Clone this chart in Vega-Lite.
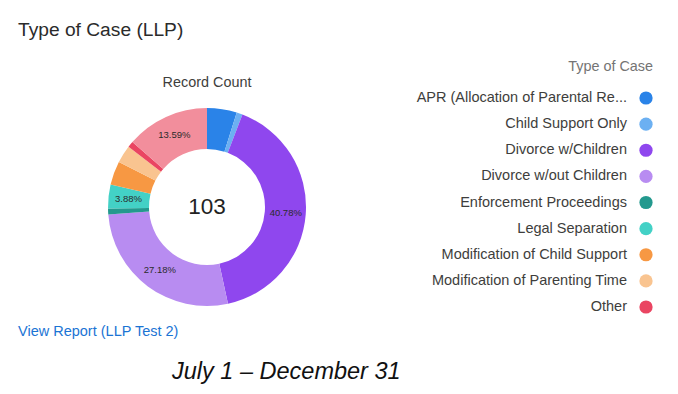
{
  "$schema": "https://vega.github.io/schema/vega-lite/v6.json",
  "padding": {"left": 18, "top": 21, "right": 0, "bottom": 0},
  "background": "white",
  "title": {"text": "Type of Case (LLP)", "anchor": "start", "fontSize": 19.2, "fontWeight": "normal", "font": "Liberation Sans", "color": "#2b2b2b", "offset": 18.5},
  "config": {"view": {"stroke": null}, "font": "Liberation Sans"},
  "data": {"values": [
    {"type": "APR (Allocation of Parental Responsibilities)", "count": 5, "label": ""},
    {"type": "Child Support Only", "count": 1, "label": ""},
    {"type": "Divorce w/Children", "count": 42, "label": "40.78%"},
    {"type": "Divorce w/out Children", "count": 28, "label": "27.18%"},
    {"type": "Enforcement Proceedings", "count": 1, "label": ""},
    {"type": "Legal Separation", "count": 4, "label": "3.88%"},
    {"type": "Modification of Child Support", "count": 4, "label": ""},
    {"type": "Modification of Parenting Time", "count": 3, "label": ""},
    {"type": "Other", "count": 1, "label": ""},
    {"type": "Paternity", "count": 14, "label": "13.59%"}
  ]},
  "spacing": 8,
  "vconcat": [
    {
      "spacing": 20,
      "hconcat": [
        {
          "width": 378,
          "height": 218,
          "title": {"text": "Record Count", "anchor": "middle", "fontSize": 14.4, "fontWeight": "normal", "color": "#3e3e3c", "offset": 8},
          "layer": [
            {
              "mark": {"type": "arc", "outerRadius": 99, "innerRadius": 58},
              "encoding": {
                "theta": {"field": "count", "type": "quantitative", "stack": true},
                "order": {"field": "type", "type": "ordinal"},
                "color": {
                  "field": "type", "type": "nominal", "legend": null,
                  "scale": {
                    "domain": ["APR (Allocation of Parental Responsibilities)", "Child Support Only", "Divorce w/Children", "Divorce w/out Children", "Enforcement Proceedings", "Legal Separation", "Modification of Child Support", "Modification of Parenting Time", "Other", "Paternity"],
                    "range": ["#2a83e8", "#6cb0f2", "#8f47ee", "#b88cf1", "#23998e", "#43d1c6", "#f79843", "#f9c490", "#ea4562", "#f28e9c"]
                  }
                }
              }
            },
            {
              "mark": {"type": "text", "radius": 79, "fontSize": 9.5, "color": "#2b2b2b"},
              "encoding": {
                "theta": {"field": "count", "type": "quantitative", "stack": true},
                "order": {"field": "type", "type": "ordinal"},
                "text": {"field": "label", "type": "nominal"}
              }
            },
            {
              "mark": {"type": "text", "fontSize": 22.5, "color": "#222222"},
              "encoding": {
                "text": {"aggregate": "sum", "field": "count", "type": "quantitative"}
              }
            }
          ]
        },
        {
          "width": 14,
          "height": 209,
          "title": {"text": "Type of Case", "anchor": "end", "fontSize": 14.4, "fontWeight": "normal", "color": "#747474", "offset": 15.5},
          "transform": [{"filter": "datum.type !== 'Paternity'"}],
          "encoding": {
            "y": {"field": "type", "type": "nominal", "sort": null, "axis": null, "scale": {"type": "point", "padding": 0}}
          },
          "layer": [
            {
              "mark": {"type": "point", "shape": "circle", "filled": true, "size": 175, "opacity": 1},
              "encoding": {
                "color": {"field": "type", "type": "nominal", "legend": null}
              }
            },
            {
              "mark": {"type": "text", "align": "right", "dx": -19, "fontSize": 14.5, "color": "#3e3e3c", "limit": 216, "ellipsis": "..."},
              "encoding": {
                "text": {"field": "type", "type": "nominal"}
              }
            }
          ]
        }
      ]
    },
    {
      "width": 378,
      "height": 1,
      "title": {"text": "View Report (LLP Test 2)", "anchor": "start", "fontSize": 14.5, "fontWeight": "normal", "color": "#1b74d4", "offset": 1},
      "mark": {"type": "text", "text": ""},
      "encoding": {}
    },
    {
      "width": 378,
      "height": 1,
      "title": {"text": "July 1 – December 31", "anchor": "start", "dx": 154, "fontSize": 23.5, "fontStyle": "italic", "fontWeight": "normal", "color": "#111111", "offset": 0},
      "mark": {"type": "text", "text": ""},
      "encoding": {}
    }
  ]
}
